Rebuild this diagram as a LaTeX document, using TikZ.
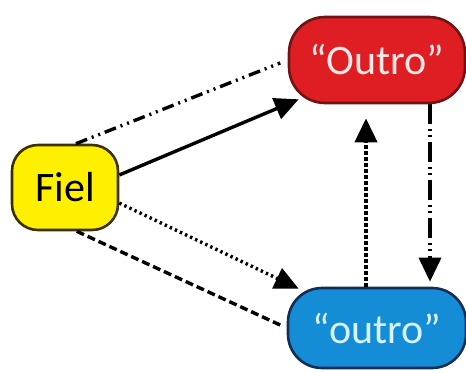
\documentclass[tikz,border=0pt]{standalone}
\usepackage{fontspec}
\setmainfont{Carlito}
\usetikzlibrary{arrows.meta}
\definecolor{amarelo}{RGB}{255,240,0}
\definecolor{vermelho}{RGB}{222,30,34}
\definecolor{azul}{RGB}{20,140,214}

\begin{document}
\begin{tikzpicture}[x=0.5pt,y=0.5pt,
  caixa/.style={draw, line width=1.3pt, inner sep=0pt, font=\fontsize{21}{25}\selectfont},
  linha/.style={line width=1.7pt},
  seta/.style={line width=1.7pt, -{Triangle[length=12pt,width=11pt]}}]
\useasboundingbox (0,0) rectangle (466,372);
% Fiel, "Outro" e "outro"
\node[caixa, fill=amarelo, draw={rgb,255:red,60;green,50;blue,0}, minimum width=53pt, minimum height=42.5pt, rounded corners=13pt] (fiel) at (65,184.5) {Fiel};
\node[caixa, fill=vermelho, draw={rgb,255:red,110;green,20;blue,20}, text={rgb,255:red,255;green,232;blue,232}, minimum width=88pt, minimum height=43pt, rounded corners=18pt] (Outro) at (377,312) {“Outro”};
\node[caixa, fill=azul, draw={rgb,255:red,20;green,45;blue,85}, text={rgb,255:red,215;green,243;blue,255}, minimum width=89pt, minimum height=40pt, rounded corners=17pt] (outro) at (377,44) {“outro”};
\draw[linha, dash pattern=on 6pt off 2.5pt on 1pt off 2.5pt on 1pt off 2.5pt, shorten >=4pt] (fiel.76) -- (Outro.west);
\draw[seta] (fiel.13) -- ([shift={(11,5)}]Outro.south west);
\draw[seta, dash pattern=on 1.2pt off 1.6pt] (fiel.-16) -- ([shift={(12,-2)}]outro.north west);
\draw[linha, dash pattern=on 4pt off 2pt, shorten >=2pt] (fiel.-75) -- (outro.west);
\draw[seta, line width=2pt, dash pattern=on 2pt off 1pt, shorten >=7pt] ([xshift=-5.5pt]outro.north) -- ([xshift=-5.5pt]Outro.south);
\draw[seta, dash pattern=on 10pt off 2.5pt on 1pt off 2pt on 1pt off 2.5pt, shorten >=2.5pt] ([xshift=26.5pt]Outro.south) -- ([xshift=26.5pt]outro.north);
\end{tikzpicture}
\end{document}
